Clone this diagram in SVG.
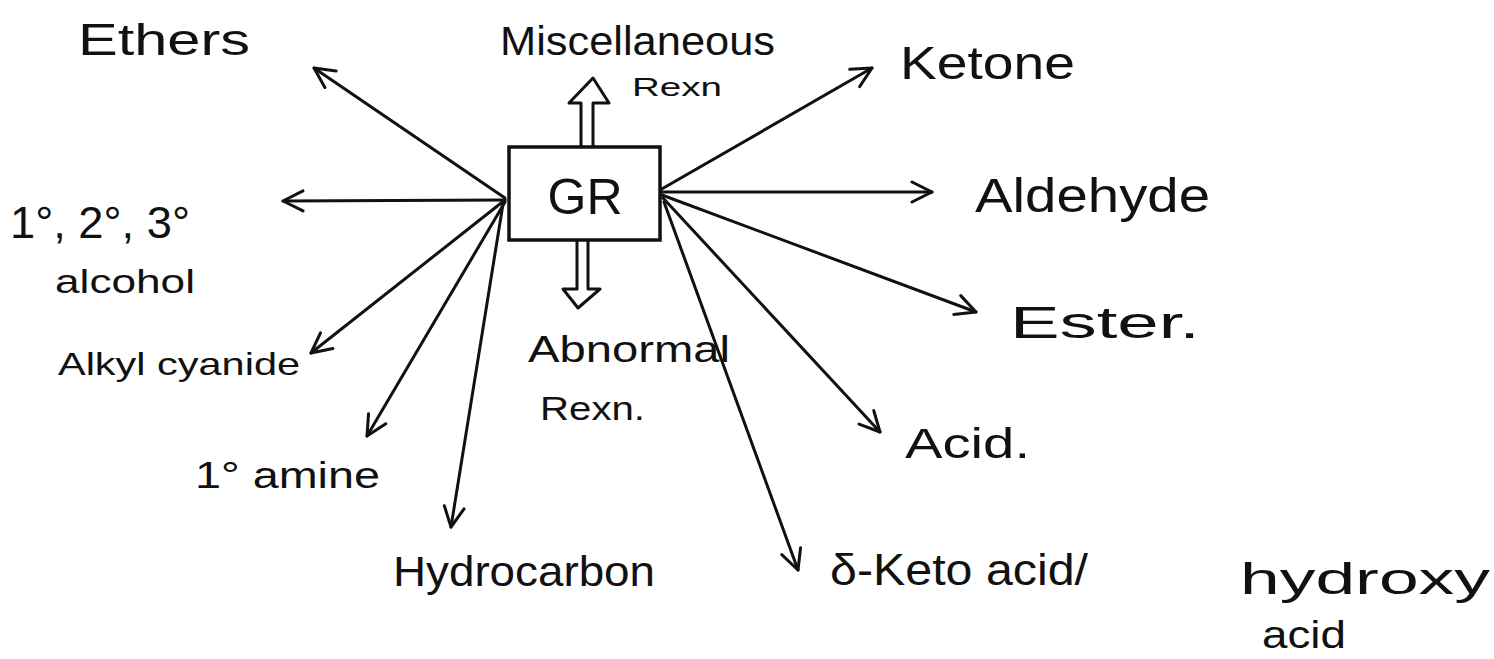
<svg xmlns="http://www.w3.org/2000/svg" width="1494" height="659" viewBox="0 0 1494 659">
<style>
.t{font-family:"Liberation Sans","DejaVu Sans",sans-serif;fill:#111}
.c{stroke:#111;stroke-width:3;fill:none;stroke-linecap:round}
.box{stroke:#111;stroke-width:3.5;fill:#fff}
.dbl{stroke:#111;stroke-width:3;fill:#fff;stroke-linejoin:round}
</style>
<defs>
<marker id="ah" viewBox="0 0 24 24" markerWidth="24" markerHeight="24" refX="22" refY="12" orient="auto" markerUnits="userSpaceOnUse">
<path d="M2,2 L22,12 L2,22" fill="none" stroke="#111" stroke-width="3" stroke-linecap="round" stroke-linejoin="round"/>
</marker>
</defs>
<rect width="1494" height="659" fill="#fff"/>
<g id="connectors">
<line class="c" x1="505" y1="198" x2="314" y2="68" marker-end="url(#ah)"/>
<line class="c" x1="505" y1="200" x2="283" y2="201" marker-end="url(#ah)"/>
<line class="c" x1="505" y1="200" x2="311" y2="353" marker-end="url(#ah)"/>
<line class="c" x1="505" y1="202" x2="367" y2="436" marker-end="url(#ah)"/>
<line class="c" x1="503" y1="204" x2="451" y2="527" marker-end="url(#ah)"/>
<line class="c" x1="660" y1="190" x2="872" y2="68" marker-end="url(#ah)"/>
<line class="c" x1="661" y1="192" x2="932" y2="192" marker-end="url(#ah)"/>
<line class="c" x1="662" y1="195" x2="976" y2="312" marker-end="url(#ah)"/>
<line class="c" x1="663" y1="198" x2="880" y2="432" marker-end="url(#ah)"/>
<line class="c" x1="664" y1="202" x2="798" y2="570" marker-end="url(#ah)"/>
<path class="dbl" d="M581,147 L581,103 L569,103 L593,78 L609,103 L593,103 L593,147"/>
<path class="dbl" d="M577,240 L577,289 L563,289 L578,308 L600,289 L588,289 L588,240"/>
</g>
<g id="node-gr">
<rect class="box" x="509" y="147" width="151" height="93"/>
<text class="t" x="585" y="214" font-size="50" text-anchor="middle">GR</text>
</g>
<g id="node-ethers"><text class="t" x="78" y="55" font-size="44" textLength="172" lengthAdjust="spacingAndGlyphs">Ethers</text></g>
<g id="node-misc">
<text class="t" x="500" y="55" font-size="40" textLength="275" lengthAdjust="spacingAndGlyphs">Miscellaneous</text>
<text class="t" x="632" y="96" font-size="26" textLength="90" lengthAdjust="spacingAndGlyphs">Rexn</text>
</g>
<g id="node-ketone"><text class="t" x="900" y="79" font-size="46" textLength="175" lengthAdjust="spacingAndGlyphs">Ketone</text></g>
<g id="node-aldehyde"><text class="t" x="975" y="212" font-size="48" textLength="235" lengthAdjust="spacingAndGlyphs">Aldehyde</text></g>
<g id="node-ester"><text class="t" x="1010" y="338" font-size="44" textLength="190" lengthAdjust="spacingAndGlyphs">Ester.</text></g>
<g id="node-acid"><text class="t" x="905" y="458" font-size="42" textLength="125" lengthAdjust="spacingAndGlyphs">Acid.</text></g>
<g id="node-keto">
<text class="t" x="830" y="585" font-size="44" textLength="258" lengthAdjust="spacingAndGlyphs">δ-Keto acid/</text>
<text class="t" x="1240" y="594" font-size="44" textLength="250" lengthAdjust="spacingAndGlyphs">hydroxy</text>
<text class="t" x="1262" y="648" font-size="38" textLength="84" lengthAdjust="spacingAndGlyphs">acid</text>
</g>
<g id="node-hydrocarbon"><text class="t" x="393" y="586" font-size="42" textLength="262" lengthAdjust="spacingAndGlyphs">Hydrocarbon</text></g>
<g id="node-amine"><text class="t" x="195" y="488" font-size="36" textLength="185" lengthAdjust="spacingAndGlyphs">1° amine</text></g>
<g id="node-cyanide"><text class="t" x="58" y="375" font-size="32" textLength="242" lengthAdjust="spacingAndGlyphs">Alkyl cyanide</text></g>
<g id="node-alcohol">
<text class="t" x="10" y="238" font-size="44" textLength="180" lengthAdjust="spacingAndGlyphs">1°, 2°, 3°</text>
<text class="t" x="55" y="293" font-size="34" textLength="140" lengthAdjust="spacingAndGlyphs">alcohol</text>
</g>
<g id="node-abnormal">
<text class="t" x="528" y="362" font-size="36" textLength="202" lengthAdjust="spacingAndGlyphs">Abnormal</text>
<text class="t" x="540" y="420" font-size="34" textLength="105" lengthAdjust="spacingAndGlyphs">Rexn.</text>
</g>
</svg>
